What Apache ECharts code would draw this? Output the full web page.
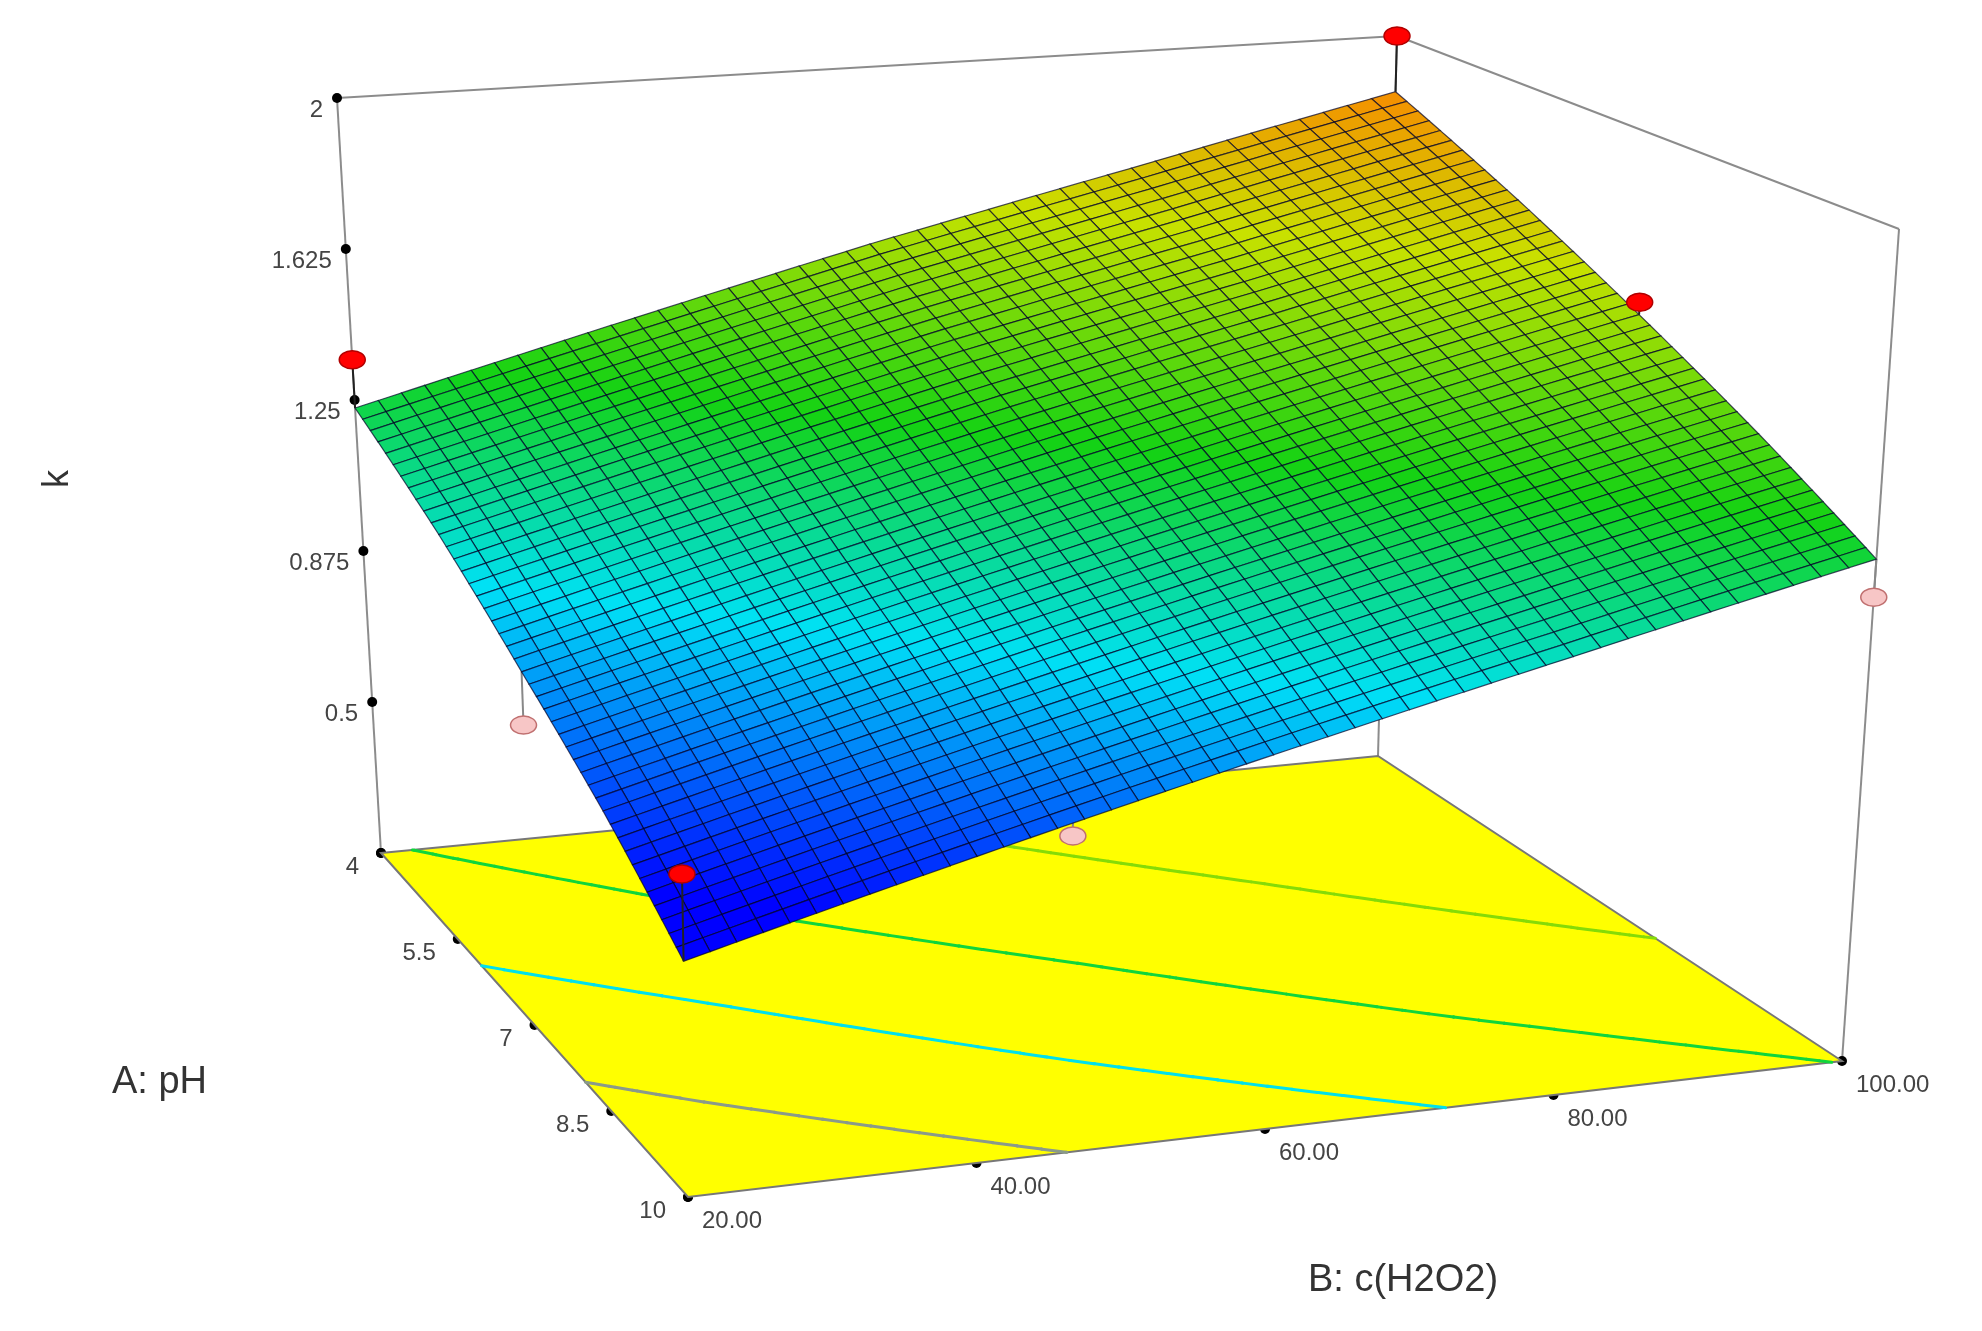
<!DOCTYPE html>
<html><head><meta charset="utf-8">
<script src="https://cdn.jsdelivr.net/npm/echarts@6/dist/echarts.min.js"></script>
<style>html,body{margin:0;padding:0;background:#fff}#c{width:1982px;height:1331px}</style>
</head><body><div id="c"></div>
<script>
const pH = [4, 5.5, 7, 8.5, 10];
const B = [20, 40, 60, 80, 100];
// k values: rows = pH, columns = B
const K = [
  [1.23, 1.39, 1.55, 1.70, 1.855],
  [1.08, 1.24, 1.40, 1.55, 1.71],
  [0.92, 1.08, 1.24, 1.40, 1.56],
  [0.77, 0.93, 1.09, 1.25, 1.41],
  [0.61, 0.77, 0.93, 1.09, 1.256]
];
const zTicks = [0.125, 0.5, 0.875, 1.25, 1.625, 2];
const zLabels = ['', '0.5', '0.875', '1.25', '1.625', '2'];
const pHLabels = ['4', '5.5', '7', '8.5', '10'];
const BLabels = ['20.00', '40.00', '60.00', '80.00', '100.00'];
// design points [pH, B, k]
const design = [
  [4, 20, 1.35], [4, 100, 2.0], [7, 100, 1.59], [10, 20, 0.79],
  [10, 100, 1.17], [7, 20, 0.80], [7, 60, 0.43]
];
const levels = [0.8201, 1.0301, 1.2501, 1.5013];

const ZMIN = 0.125, ZMAX = 2;
const F = {a:[381,853], b:[1378,756], c:[688,1197], d:[1842,1061]};
const T = {a:[337,98], b:[1397,36], c:[671,286], d:[1899,229]};
function bil(C, u, v) {
  return [0,1].map(i => (1-u)*(1-v)*C.a[i] + u*(1-v)*C.b[i] + (1-u)*v*C.c[i] + u*v*C.d[i]);
}
function P(ph, b, z) {
  const u = (b - B[0]) / (B[4] - B[0]), v = (ph - pH[0]) / (pH[4] - pH[0]);
  const f = bil(F, u, v), t = bil(T, u, v), s = (z - ZMIN) / (ZMAX - ZMIN);
  return [f[0] + (t[0]-f[0])*s, f[1] + (t[1]-f[1])*s];
}
function kAt(ph, b) {
  const fi = (ph - pH[0]) / 1.5, fj = (b - B[0]) / 20;
  const i = Math.min(3, Math.floor(fi)), j = Math.min(3, Math.floor(fj));
  const a = fi - i, c = fj - j;
  return (1-a)*(1-c)*K[i][j] + (1-a)*c*K[i][j+1] + a*(1-c)*K[i+1][j] + a*c*K[i+1][j+1];
}
const stops = [[0.68,[0,0,255]],[1.02,[0,225,245]],[1.3,[20,210,20]],[1.62,[200,225,0]],[1.9,[255,125,0]]];
function col(k) {
  if (k <= stops[0][0]) return 'rgb(' + stops[0][1] + ')';
  for (let i = 1; i < stops.length; i++) {
    if (k <= stops[i][0]) {
      const t = (k - stops[i-1][0]) / (stops[i][0] - stops[i-1][0]);
      const c = stops[i-1][1].map((x, n) => Math.round(x + (stops[i][1][n]-x)*t));
      return 'rgb(' + c + ')';
    }
  }
  return 'rgb(' + stops[stops.length-1][1] + ')';
}
const N = 44;
const cells = [];
for (let i = 0; i < N; i++) for (let j = N-1; j >= 0; j--) cells.push([i, j]);

const chart = echarts.init(document.getElementById('c'));
function C(api, p) { return api.coord(p); }
const base = {type:'custom', coordinateSystem:'cartesian2d', silent:true, animation:false};

function floorItem(params, api) {
  const ch = [];
  const pts = [P(4,20,ZMIN), P(4,100,ZMIN), P(10,100,ZMIN), P(10,20,ZMIN)].map(p => C(api,p));
  ch.push({type:'polygon', shape:{points:pts}, style:{fill:'#ffff00', stroke:'#777', lineWidth:2}});
  const M = 61;
  const g = (i,j) => [pH[0] + 6*i/M, B[0] + 80*j/M];
  levels.forEach(L => {
    for (let i = 0; i < M; i++) for (let j = 0; j < M; j++) {
      const cs = [[i,j],[i,j+1],[i+1,j+1],[i+1,j]].map(q => { const x = g(q[0],q[1]); return [x[0], x[1], kAt(x[0],x[1])]; });
      const hits = [];
      for (let e = 0; e < 4; e++) {
        const p1 = cs[e], p2 = cs[(e+1)%4];
        if ((p1[2]-L)*(p2[2]-L) <= 0 && p1[2] !== p2[2]) {
          const t = (L-p1[2])/(p2[2]-p1[2]);
          hits.push([p1[0]+(p2[0]-p1[0])*t, p1[1]+(p2[1]-p1[1])*t]);
        }
      }
      if (hits.length >= 2) {
        const a = C(api,P(hits[0][0],hits[0][1],ZMIN)), b = C(api,P(hits[1][0],hits[1][1],ZMIN));
        ch.push({type:'line', shape:{x1:a[0],y1:a[1],x2:b[0],y2:b[1]}, style:{stroke: L < 0.9 ? '#8a9a8a' : col(L), lineWidth:3, lineCap:'round'}});
      }
    }
  });
  return {type:'group', children:ch};
}

function boxItem(params, api) {
  const ch = [];
  const ln = (a, b, w) => { const p = C(api,a), q = C(api,b); ch.push({type:'line', shape:{x1:p[0],y1:p[1],x2:q[0],y2:q[1]}, style:{stroke:'#8c8c8c', lineWidth:w||2}}); };
  ln(P(4,20,ZMIN), P(4,20,ZMAX));
  ln(P(4,100,ZMIN), P(4,100,ZMAX));
  ln(P(10,100,ZMIN), P(10,100,ZMAX));
  ln(P(4,20,ZMAX), P(4,100,ZMAX));
  ln(P(4,100,ZMAX), P(10,100,ZMAX));
  const font = '24px Arial, "Liberation Sans", sans-serif';
  zTicks.forEach((z, n) => {
    const p = C(api, P(4,20,z));
    ch.push({type:'circle', shape:{cx:p[0], cy:p[1], r:5}, style:{fill:'#000'}});
    if (zLabels[n]) ch.push({type:'text', x:p[0]-14, y:p[1]+12, style:{text:zLabels[n], font:font, fill:'#444', align:'right', verticalAlign:'middle'}});
  });
  pH.forEach((v, n) => {
    const p = C(api, P(v,20,ZMIN));
    ch.push({type:'circle', shape:{cx:p[0], cy:p[1], r:5}, style:{fill:'#000'}});
    ch.push({type:'text', x:p[0]-22, y:p[1]+14, style:{text:pHLabels[n], font:font, fill:'#444', align:'right', verticalAlign:'middle'}});
  });
  B.forEach((v, n) => {
    const p = C(api, P(10,v,ZMIN));
    ch.push({type:'circle', shape:{cx:p[0], cy:p[1], r:5}, style:{fill:'#000'}});
    ch.push({type:'text', x:p[0]+14, y:p[1]+24, style:{text:BLabels[n], font:font, fill:'#444', align:'left', verticalAlign:'middle'}});
  });
  return {type:'group', children:ch};
}

function pointsItem(below) {
  return function(params, api) {
    const d = design[params.dataIndex];
    const s = kAt(d[0], d[1]);
    if ((d[2] < s) !== below) return null;
    const p = C(api, P(d[0], d[1], d[2])), q = C(api, P(d[0], d[1], s));
    return {type:'group', children:[
      {type:'line', shape:{x1:p[0],y1:p[1],x2:q[0],y2:q[1]}, style:{stroke: below ? '#888' : '#222', lineWidth:2}},
      {type:'ellipse', shape:{cx:p[0], cy:p[1], rx:13, ry:9}, style:{fill: below ? '#f7c6c6' : '#ff0000', stroke: below ? '#c07070' : '#b00000', lineWidth:1.5}}
    ]};
  };
}

function cellItem(params, api) {
  const c = cells[params.dataIndex];
  const i = c[0], j = c[1];
  const ph0 = pH[0] + 6*i/N, ph1 = pH[0] + 6*(i+1)/N, b0 = B[0] + 80*j/N, b1 = B[0] + 80*(j+1)/N;
  const corners = [[ph0,b0],[ph0,b1],[ph1,b1],[ph1,b0]];
  const ks = corners.map(q => kAt(q[0], q[1]));
  const pts = corners.map((q, n) => C(api, P(q[0], q[1], ks[n])));
  const km = (ks[0]+ks[1]+ks[2]+ks[3])/4;
  return {type:'polygon', shape:{points:pts}, style:{fill:col(km), stroke:'rgba(0,0,40,0.7)', lineWidth:1.2}};
}

chart.setOption({
  animation:false,
  grid:{left:0, right:0, top:0, bottom:0},
  xAxis:{type:'value', min:0, max:1982, show:false},
  yAxis:{type:'value', min:0, max:1331, inverse:true, show:false},
  graphic:[
    {type:'text', left:40, top:470, rotation:Math.PI/2, style:{text:'k', font:'36px Arial, "Liberation Sans", sans-serif', fill:'#333'}},
    {type:'text', left:112, top:1064, style:{text:'A: pH', font:'38px Arial, "Liberation Sans", sans-serif', fill:'#333'}},
    {type:'text', left:1308, top:1262, style:{text:'B: c(H2O2)', font:'38px Arial, "Liberation Sans", sans-serif', fill:'#333'}}
  ],
  series:[
    Object.assign({}, base, {z:1, data:[0], renderItem:boxItem}),
    Object.assign({}, base, {z:2, data:[0], renderItem:floorItem}),
    Object.assign({}, base, {z:3, data:design.map((d,i)=>i), renderItem:pointsItem(true)}),
    Object.assign({}, base, {z:4, data:cells.map((c,i)=>i), renderItem:cellItem}),
    Object.assign({}, base, {z:5, data:design.map((d,i)=>i), renderItem:pointsItem(false)})
  ]
});
</script></body></html>
